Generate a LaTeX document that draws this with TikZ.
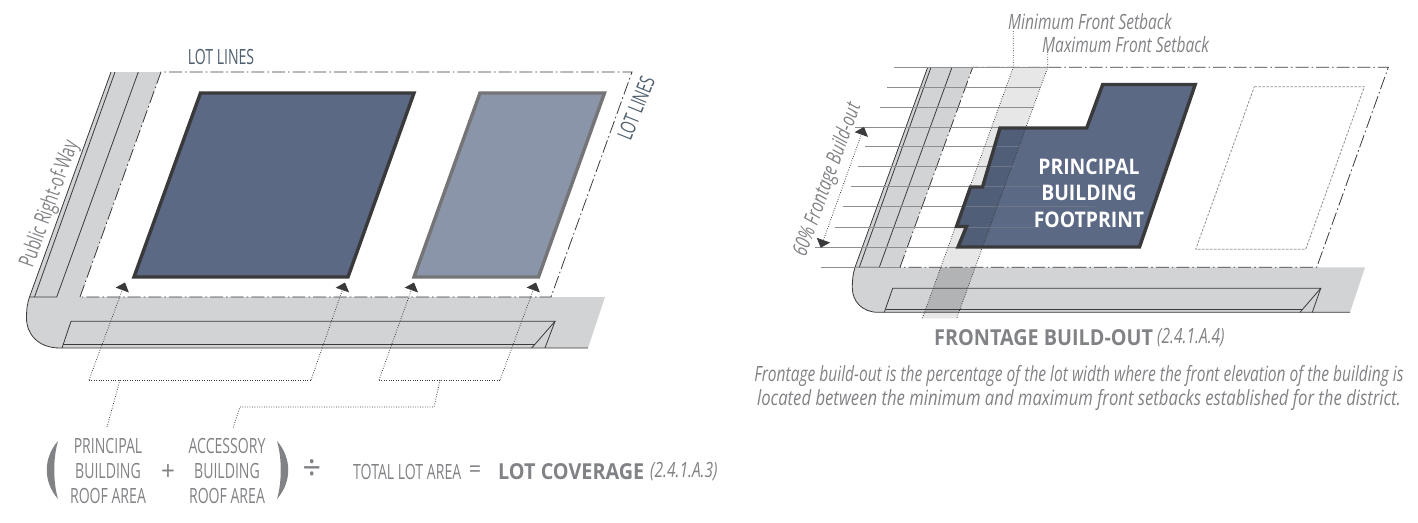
\documentclass[tikz,border=0pt]{standalone}
\usepackage{fontspec}
\usetikzlibrary{arrows.meta}
\setmainfont[FakeStretch=0.67]{Open Sans}
\newfontfamily\widerfont[FakeStretch=0.9]{Open Sans}
\newfontfamily\slantfont[FakeStretch=0.74]{Open Sans}
\newfontfamily\slantwidefont[FakeStretch=0.795]{Open Sans}
\definecolor{road}{HTML}{D1D3D4}
\definecolor{ink}{HTML}{3A3A3C}
\definecolor{navy}{HTML}{5B6985}
\definecolor{paleblue}{HTML}{8A95A9}
\definecolor{midstroke}{HTML}{757577}
\definecolor{txtgray}{HTML}{808285}
\definecolor{slate}{HTML}{4F5F6E}
\definecolor{rule}{HTML}{8C8E90}
\definecolor{rulebldg}{HTML}{6D7586}
\tikzset{
  roadfill/.style={fill=road,draw=none},
  thin line/.style={draw=ink,line width=0.8pt},
  lotline/.style={draw=ink,line width=0.8pt,dash pattern=on 13pt off 3pt on 1.6pt off 3pt},
  leader/.style={draw=ink,line width=0.8pt,dash pattern=on 0.8pt off 1.6pt},
  leadertip/.style={-{Triangle[length=8pt,width=14pt,fill=ink]}},
  bldg/.style={draw=ink,line width=3.4pt,miter limit=10},
  accbldg/.style={fill=paleblue,draw=midstroke,line width=3.4pt},
  gridline/.style={draw=rule,line width=0.9pt},
  lbl/.style={inner sep=0pt,text=txtgray,font=\fontsize{21}{21}\selectfont},
  ital/.style={inner sep=0pt,text=txtgray,font=\slantfont\itshape\fontsize{21}{21}\selectfont},
  italwide/.style={inner sep=0pt,text=txtgray,font=\slantwidefont\itshape\fontsize{21}{21}\selectfont},
  boldlbl/.style={inner sep=0pt,text=txtgray,font=\widerfont\bfseries\fontsize{22}{22}\selectfont},
  whitelbl/.style={inner sep=0pt,text=white,font=\widerfont\bfseries\fontsize{21.5}{21.5}\selectfont},
  slatelbl/.style={inner sep=0pt,text=slate,font=\fontsize{21}{21}\selectfont},
  symlbl/.style={inner sep=0pt,text=txtgray,font=\widerfont\fontsize{#1}{#1}\selectfont},
}
\begin{document}
\begin{tikzpicture}[x=1pt,y=-1pt]
\useasboundingbox (0,0) rectangle (1418,522);
% ---------- LEFT ----------
\fill[roadfill] (111,72) -- (161,72) -- (80,297) -- (605,297) -- (588,348) -- (60,348)
  .. controls (38,348) and (26.5,334) .. (26.5,318) .. controls (26.5,308) and (27.5,303) .. (29.5,297) -- cycle;
\draw[thin line] (111,72) -- (29.5,297) .. controls (27.5,303) and (26.5,308) .. (26.5,318) .. controls (26.5,334) and (38,348) .. (60,348) -- (588,348);
\draw[thin line] (115,72) -- (34.5,297);
\draw[thin line] (138.3,72) -- (56.7,297) -- (29.5,297);
\draw[thin line] (62,348) -- (71,321.3) -- (555,321.3) -- (531.7,348);
\draw[thin line] (555,321.3) -- (545,348);
\draw[thin line] (63,344.3) -- (534.5,344.3);
\draw[lotline] (80,297) -- (161,72) -- (632,72) -- (551,297) -- cycle;
\draw[bldg,fill=navy] (200.5,93) -- (414,93) -- (348,277) -- (134,277) -- cycle;
\draw[accbldg] (480,93) -- (604.5,93) -- (538.5,277) -- (414,277) -- cycle;
% leaders
\coordinate (b1a) at (89,380); \coordinate (b1b) at (311,380);
\coordinate (b2a) at (379,380); \coordinate (b2b) at (500,380);
\coordinate (t1) at (125,282.5); \coordinate (t2) at (345,282.5);
\coordinate (t3) at (414,282.5); \coordinate (t4) at (536,282.5);
\draw[leader,leadertip] (b1a) -- (t1);
\draw[leader,leadertip] (b1b) -- (t2);
\draw[leader,leadertip] (b2a) -- (t3);
\draw[leader,leadertip] (b2b) -- (t4);
\draw[leader] (b1a) -- (b1b);
\draw[leader] (b2a) -- (b2b);
\coordinate (l1a) at (120,380); \coordinate (l1b) at (107,427);
\coordinate (l2a) at (440,380); \coordinate (l2b) at (434,407);
\coordinate (l2c) at (240,407); \coordinate (l2d) at (233,428);
\draw[leader] (l1a) -- (l1b);
\draw[leader] (l2a) -- (l2b) -- (l2c) -- (l2d);
\node[slatelbl] (lotA) at (221,57) {LOT LINES};
\node[slatelbl,rotate=68] (lotB) at (636,108) {LOT LINES};
\node[lbl,rotate=70,font=\fontsize{22}{22}\selectfont] (row) at (50,204) {Public Right-of-Way};
\node[lbl] (p1) at (108,446) {PRINCIPAL};
\node[lbl] (p2) at (108,471) {BUILDING};
\node[lbl] (p3) at (108,496) {ROOF AREA};
\node[lbl] (a1) at (227,446) {ACCESSORY};
\node[lbl] (a2) at (227,471) {BUILDING};
\node[lbl] (a3) at (227,496) {ROOF AREA};
\fill[txtgray] (58,441) .. controls (43,458) and (43,482) .. (58,499) .. controls (53,482) and (53,458) .. (58,441) -- cycle;
\fill[txtgray] (277,441) .. controls (292,458) and (292,482) .. (277,499) .. controls (282,482) and (282,458) .. (277,441) -- cycle;
\node[symlbl=27] (plus) at (168,472) {+};
\node[symlbl=36] (div) at (312,470) {÷};
\node[lbl,anchor=west] (tot) at (353,472) {TOTAL LOT AREA};
\node[symlbl=24] (eq) at (475,472) {=};
\node[boldlbl,anchor=west] (cov) at (498,472) {LOT COVERAGE};
\node[ital,anchor=west] (covref) at (650,472) {(2.4.1.A.3)};
% ---------- RIGHT ----------
\fill[roadfill] (927.7,67.3) -- (972.7,67.3) -- (900,267.3) -- (1365,267.3) -- (1350,312.3) -- (878,312.3)
  .. controls (862,312.3) and (852.3,301) .. (852.3,288) .. controls (852.3,279) and (853,274) .. (855,267.3) -- cycle;
\fill[black,opacity=.095] (1013.3,67.3) -- (1047.7,67.3) -- (956.7,318.3) -- (922.3,318.3) -- cycle;
\fill[black,opacity=.06] (940.8,267.3) -- (975.2,267.3) -- (958.9,312.3) -- (924.5,312.3) -- cycle;
\draw[thin line] (927.7,67.3) -- (855,267.3) .. controls (853,274) and (852.3,279) .. (852.3,288) .. controls (852.3,301) and (862,312.3) .. (878,312.3) -- (1350,312.3);
\draw[thin line] (931,67.3) -- (859.3,267.3);
\draw[thin line] (952,67.3) -- (879.3,267.3) -- (855,267.3);
\draw[thin line] (884.3,312.3) -- (892.7,288.3) -- (1320.7,288.3) -- (1300,312.3);
\draw[thin line] (1320.7,288.3) -- (1312.3,312.3);
\draw[thin line] (885.5,309.3) -- (1303,309.3);
\draw[lotline] (900,267.3) -- (972.7,67.3) -- (1388.3,67.3) -- (1316.7,267.3) -- cycle;
\foreach \ya/\xa/\xb in {67.3/894/1047.7,87.3/887.3/1040.3,107.3/880/1033,127.3/855/1026,146.3/865/1020,166.3/858/1013,186.3/851/1006,206.3/843/1000,227.3/835/1000,247.3/815/957,267.3/821/900}{
  \draw[gridline] (\xa,\ya) -- (\xb,\ya);
}
\def\footprintpath{(1102.7,84.5) -- (1195.2,84.5) -- (1139.5,247) -- (958,247) -- (966.5,226.5) -- (956.5,226.5) -- (970.5,187) -- (982.5,187) -- (1000,128) -- (1086.7,128) -- cycle}
\fill[navy] \footprintpath;
\begin{scope}
  \clip \footprintpath;
  \fill[black,opacity=.1] (1013.3,67.3) -- (1047.7,67.3) -- (956.7,318.3) -- (922.3,318.3) -- cycle;
  \foreach \ya/\xb in {127.3/1026,146.3/1020,166.3/1015,186.3/1040,206.3/1095,227.3/1040}{
    \draw[rulebldg,line width=0.9pt] (950,\ya) -- (\xb,\ya);
  }
\end{scope}
\draw[bldg] \footprintpath;
\draw[draw=rule,line width=0.8pt,dash pattern=on 2.5pt off 1.5pt] (1254.3,86.7) -- (1364.3,86.7) -- (1305.7,249.3) -- (1195.7,249.3) -- cycle;
\coordinate (minA) at (1013.3,31); \coordinate (minB) at (1013.3,67.3); \coordinate (minC) at (922.3,318.3);
\coordinate (maxA) at (1047.7,52); \coordinate (maxB) at (1047.7,67.3); \coordinate (maxC) at (956.7,318.3);
\draw[leader] (minA) -- (minB) -- (minC);
\draw[leader] (maxA) -- (maxB) -- (maxC);
\coordinate (fbA) at (820.7,247.7); \coordinate (fbB) at (864,127);
\draw[leader,{Triangle[length=8pt,width=14pt,fill=ink]}-{Triangle[length=8pt,width=14pt,fill=ink]}] (fbA) -- (fbB);
\node[ital,rotate=70] (fblabel) at (828,180) {60\% Frontage Build-out};
\node[ital,anchor=west] (minlbl) at (1008,22) {Minimum Front Setback};
\node[ital,anchor=west] (maxlbl) at (1042,45) {Maximum Front Setback};
\node[whitelbl] (f1) at (1089,167) {PRINCIPAL};
\node[whitelbl] (f2) at (1089,193) {BUILDING};
\node[whitelbl] (f3) at (1089,220) {FOOTPRINT};
\node[boldlbl,anchor=west] (fbt) at (934,338) {FRONTAGE BUILD-OUT};
\node[ital,anchor=west] (fbref) at (1157,338) {(2.4.1.A.4)};
\node[ital] (para1) at (1079,376) {Frontage build-out is the percentage of the lot width where the front elevation of the building is};
\node[italwide] (para2) at (1079,400) {located between the minimum and maximum front setbacks established for the district.};
\end{tikzpicture}
\end{document}
